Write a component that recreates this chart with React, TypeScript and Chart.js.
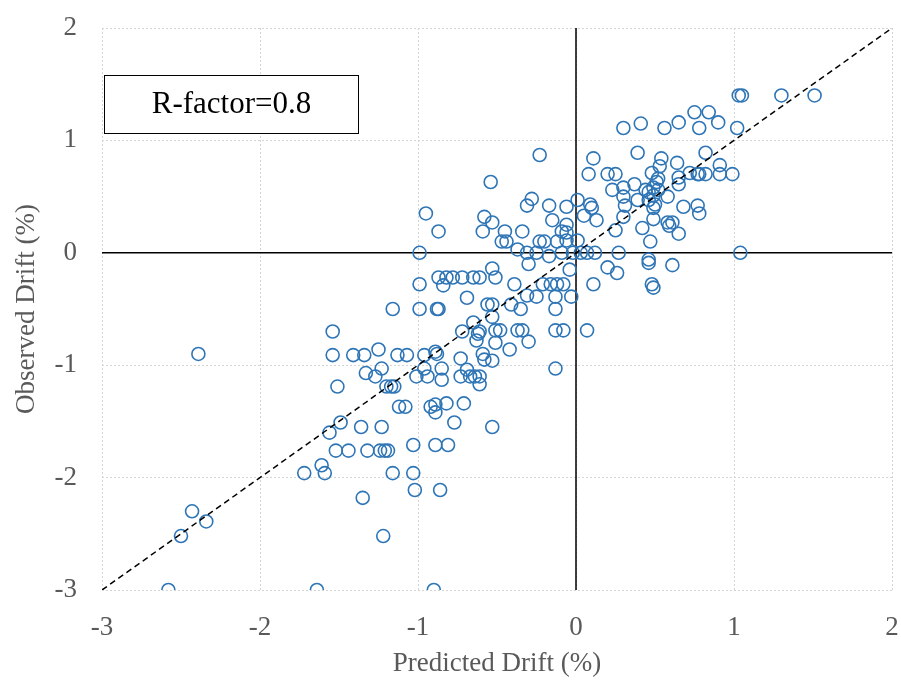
import React, { useEffect, useRef } from "react";
import { Chart, registerables } from "chart.js";

Chart.register(...registerables);

// Predicted drift (%) of each specimen
const predicted: number[] = [
  -2.58, -2.39, -2.43, -2.34, -2.5,
  -1.54, -1.54, -1.41, -1.34, -1.25, -1.13, -1.07, -0.96, -0.89, -0.88,
  -1.33, -1.27, -1.23, -1.51, -1.2, -1.17, -1.15, -1.01, -0.94, -0.96,
  -0.85, -0.85, -0.73, -0.73, -1.12, -1.08, -0.92, -0.89, -0.89, -0.82,
  -0.77, -1.49, -1.56, -1.36, -1.23, -1.52, -1.44, -1.32, -1.24, -1.21,
  -1.19, -1.03, -0.89, -0.81, -1.72, -1.61, -1.59, -1.16, -1.03, -1.35,
  -1.02, -0.86, -1.22, -1.64, -0.9,
  -0.95, -0.87, -0.99, -0.87, -0.82, -0.78, -0.84, -0.99, -1.16, -0.99, -0.88, -0.87,
  -0.23, -0.54, 0.11, 0.08, -0.28, -0.31, -0.17, -0.06, 0.01, 0.09,
  0.1, 0.05, 0.13, -0.58, -0.53, -0.59, -0.15, -0.06, -0.09, -0.06,
  -0.45, -0.34, -0.47, -0.44, -0.23, -0.2, -0.12, -0.06, 0.01, -0.17,
  -0.37, -0.31, -0.3, -0.25, -0.09, -0.02, 0.03, 0.07, 0.12, -0.04,
  0.11, -0.72, -0.65, -0.61, -0.53, -0.51, -0.39, -0.21, -0.16, -0.12,
  -0.08, -0.31, -0.25, -0.13, -0.03, -0.69,
  -0.56, -0.53, -0.41, -0.35, -0.13, -0.53, -0.65, -0.72, -0.61, -0.62,
  -0.63, -0.51, -0.48, -0.37, -0.34, -0.13, -0.08, 0.07, -0.3, -0.51,
  -0.42, -0.59, -0.58, -0.53, -0.13, -0.69, -0.67, -0.64, -0.61, -0.61,
  -0.71, -0.53,
  1.05, 1.03, 0.75, 0.84, 0.65, 0.9, 0.3, 0.41, 0.56, 0.78,
  1.02, 0.39, 0.82, 0.54, 0.64, 0.91, 0.53, 0.2, 0.25, 0.72,
  0.77, 0.78, 0.82, 0.91, 0.99, 0.48, 0.52, 0.65, 0.65, 0.37,
  0.3, 0.23, 0.51, 0.49, 0.46, 0.52, 0.44, 0.49, 0.3, 0.39,
  0.58, 0.46, 0.5, 0.31, 0.68, 0.77, 0.49, 0.78, 0.3, 0.49,
  0.58, 0.61, 0.59, 0.25, 0.42,
  0.47, 0.65, 0.27, 1.04, 0.46, 0.46, 0.61, 0.2, 0.26, 0.48, 0.49,
  1.3, 1.51,
];

// Observed drift (%) of each specimen
const observed: number[] = [
  -3, -0.9, -2.3, -2.39, -2.52,
  -0.7, -0.91, -0.91, -0.91, -0.86, -0.91, -0.91, -0.91, -0.88, -0.9,
  -1.07, -1.1, -1.03, -1.19, -1.19, -1.19, -1.19, -1.1, -1.1, -1.03,
  -1.03, -1.13, -1.1, -0.94, -1.37, -1.37, -1.37, -1.35, -1.42, -1.34,
  -1.51, -1.51, -1.6, -1.55, -1.55, -1.76, -1.76, -1.76, -1.76, -1.76,
  -1.76, -1.71, -1.71, -1.71, -1.96, -1.89, -1.96, -1.96, -1.96, -2.18,
  -2.11, -2.11, -2.52, -3, -3,
  0.35, 0.19, 0, -0.22, -0.22, -0.22, -0.29, -0.28, -0.5, -0.5, -0.5, -0.5,
  0.87, 0.63, 0.84, 0.7, 0.48, 0.42, 0.42, 0.41, 0.47, 0.43,
  0.4, 0.33, 0.29, 0.32, 0.27, 0.19, 0.29, 0.25, 0.19, 0.18,
  0.19, 0.19, 0.1, 0.1, 0.1, 0.1, 0.1, 0.11, 0.11, -0.03,
  0.03, 0, -0.1, 0, 0, 0, 0, 0, 0, -0.15,
  -0.28, -0.22, -0.22, -0.22, -0.14, -0.22, -0.28, -0.28, -0.28, -0.28,
  -0.28, -0.38, -0.39, -0.39, -0.39, -0.4,
  -0.46, -0.46, -0.46, -0.5, -0.5, -0.57, -0.62, -0.7, -0.7, -0.72,
  -0.78, -0.69, -0.69, -0.69, -0.69, -0.69, -0.69, -0.69, -0.79, -0.8,
  -0.86, -0.9, -0.95, -0.96, -1.03, -1.04, -1.1, -1.1, -1.1, -1.17,
  -1.34, -1.55,
  1.4, 1.4, 1.25, 1.25, 1.16, 1.16, 1.11, 1.15, 1.11, 1.11,
  1.11, 0.89, 0.89, 0.84, 0.8, 0.78, 0.77, 0.7, 0.7, 0.71,
  0.7, 0.7, 0.7, 0.7, 0.7, 0.71, 0.66, 0.67, 0.61, 0.61,
  0.58, 0.56, 0.63, 0.58, 0.54, 0.56, 0.56, 0.51, 0.5, 0.47,
  0.5, 0.47, 0.43, 0.42, 0.41, 0.42, 0.4, 0.35, 0.32, 0.3,
  0.27, 0.27, 0.24, 0.2, 0.22,
  0.1, 0.17, 0, 0, -0.06, -0.09, -0.11, -0.13, -0.18, -0.28, -0.31,
  1.4, 1.4,
];

const axisMin = -3;
const axisMax = 2;
const fitLine = [-3, 2]; // y = x reference line end values
const boxLabel = "R-factor=0.8";
const xTitle = "Predicted Drift (%)";
const yTitle = "Observed Drift (%)";

const FONT = "'Liberation Serif', 'Times New Roman', serif";

const overlayPlugin = {
  id: "overlay",
  beforeDatasetsDraw(chart: any) {
    const { ctx, chartArea: a, scales } = chart;
    const x0 = scales.x.getPixelForValue(0);
    const y0 = scales.y.getPixelForValue(0);
    ctx.save();
    ctx.strokeStyle = "#000";
    ctx.lineWidth = 1.5;
    ctx.beginPath();
    ctx.moveTo(x0, a.top);
    ctx.lineTo(x0, a.bottom);
    ctx.moveTo(a.left, y0);
    ctx.lineTo(a.right, y0);
    ctx.stroke();
    ctx.restore();
  },
  afterDraw(chart: any) {
    const { ctx, chartArea: a } = chart;
    const left = Math.round(a.left + 2) + 0.5;
    const top = Math.round(a.top + 47) + 0.5;
    const w = 254;
    const h = 58;
    ctx.save();
    ctx.fillStyle = "#fff";
    ctx.fillRect(left, top, w, h);
    ctx.strokeStyle = "#000";
    ctx.lineWidth = 1;
    ctx.strokeRect(left, top, w, h);
    ctx.fillStyle = "#000";
    ctx.font = `31px ${FONT}`;
    ctx.textAlign = "center";
    ctx.textBaseline = "middle";
    ctx.fillText(boxLabel, left + w / 2, top + h / 2);
    ctx.restore();
  },
};

export default function App() {
  const ref = useRef<HTMLCanvasElement | null>(null);

  useEffect(() => {
    if (!ref.current) return;
    const points = predicted.map((p, i) => ({ x: p, y: observed[i] }));
    const chart = new Chart(ref.current, {
      type: "scatter",
      data: {
        datasets: [
          {
            type: "line",
            data: fitLine.map((v) => ({ x: v, y: v })),
            borderColor: "#000",
            borderWidth: 1.5,
            borderDash: [6, 4],
            pointRadius: 0,
            fill: false,
            order: 0,
          } as any,
          {
            data: points,
            pointStyle: "circle",
            pointRadius: 6.5,
            pointBorderWidth: 1.6,
            borderColor: "#2E75B6",
            backgroundColor: "rgba(0,0,0,0)",
            order: 1,
          },
        ],
      },
      options: {
        animation: false,
        responsive: false,
        layout: { padding: { top: 28, right: 9, left: 0, bottom: 0 } },
        plugins: {
          legend: { display: false },
          tooltip: { enabled: false },
        },
        scales: {
          x: {
            type: "linear",
            min: axisMin,
            max: axisMax,
            ticks: {
              stepSize: 1,
              color: "#595959",
              font: { family: FONT, size: 27 },
              padding: 22,
            },
            grid: { color: "#d4d4d4", lineWidth: 1, drawTicks: false },
            border: { display: false, dash: [2, 2] },
            title: {
              display: true,
              text: xTitle,
              color: "#595959",
              font: { family: FONT, size: 27 },
              padding: { top: 0, bottom: 6 },
            },
            afterFit: (s: any) => {
              s.height = 96;
              s.paddingLeft = 0;
              s.paddingRight = 0;
            },
          },
          y: {
            type: "linear",
            min: axisMin,
            max: axisMax,
            ticks: {
              stepSize: 1,
              color: "#595959",
              font: { family: FONT, size: 27 },
              padding: 25,
            },
            grid: { color: "#d4d4d4", lineWidth: 1, drawTicks: false },
            border: { display: false, dash: [2, 2] },
            title: {
              display: true,
              text: yTitle,
              color: "#595959",
              font: { family: FONT, size: 27 },
              padding: { top: 11, bottom: 0 },
            },
            afterFit: (s: any) => {
              s.width = 102;
              s.paddingTop = 0;
              s.paddingBottom = 0;
            },
          },
        },
      },
      plugins: [overlayPlugin],
    });
    return () => chart.destroy();
  }, []);

  return (
    <div style={{ position: "absolute", left: 0, top: 0, width: 901, height: 686, background: "#fff" }}>
      <canvas ref={ref} width={901} height={686} style={{ display: "block" }} />
    </div>
  );
}
